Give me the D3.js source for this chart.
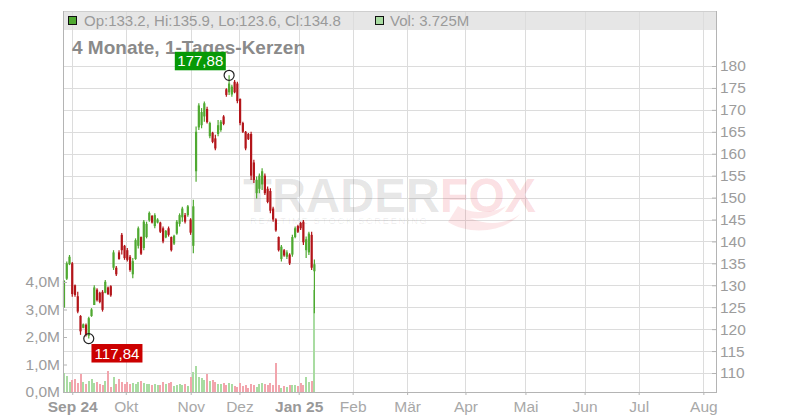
<!DOCTYPE html>
<html><head><meta charset="utf-8">
<script src="https://cdn.jsdelivr.net/npm/d3@7"></script>
<style>html,body{margin:0;padding:0;background:#fff}svg{display:block;font-family:"Liberation Sans",Arial,Helvetica,sans-serif}</style>
</head><body><svg id="c" width="800" height="420"></svg>
<script>
// ---- data ----
const openP=[125,131.5,134.8,135,130,127.5,123,120.3,121,118.5,
123,125.5,129,128.3,128.5,128.3,129.5,129.8,134,134,
137.5,141.5,139,138,136.5,132.5,136,139,141,138.5,
141,144.8,145.8,143.5,144.3,144.3,143,140.9,143,141,
139.5,141.8,144,145.5,146,146,145,139,156,166,
166.5,168.5,170.2,164,164.8,163.5,164.5,165.4,168.5,174.7,
174,173.5,176.4,176,172.5,167,165,164.5,164.5,158,
151,152,153,155,152,151.5,147.5,145,141,136,
138,136.5,137,137,141,143.5,144.2,144.5,138,137.5,
141.5,133.2];
const highP=[131.2,135.4,136.9,135.3,130.2,128.5,123.2,121.3,121.3,122.8,
124.8,130,129.3,128.5,128.9,131.2,129.7,130,138,134.4,
138,141.9,139.2,138.5,136.9,136.2,140.7,143.4,141.1,144.9,
144.5,146.8,146,146.4,145.3,144.5,143.4,142.6,143.4,141.1,
141.5,144.9,146.4,147.9,146.5,148.3,145.3,149.5,166.2,171.5,
170.4,171.9,170.7,167.3,165,164.3,167.7,167.7,168.8,174.9,
177.88,175.7,176.8,176.4,172.6,167.3,165.2,164.7,165,158.6,
154.8,155.5,156.7,155.5,152.5,152.1,147.9,145.3,141.1,139.2,
138.3,138,137.3,141.5,143.4,143.8,144.5,144.9,141.1,142.2,
142.2,135.9];
const lowP=[124.8,131.2,134.6,127.4,127.4,123.6,118.7,120.2,118.3,117.84,
122.8,125.5,126.3,125.9,124,128.2,127.8,127.4,133.5,132.1,
135.8,137,135.8,135.4,133.1,131.6,135.8,138.4,136.9,138,
140.7,144.5,144.1,143,144.1,141.9,139.6,140.7,141.1,137.7,
139.2,141.5,143.4,144.5,144.1,145.6,141.5,137.3,153.6,165.4,
165.8,167.3,166.9,163.5,162.4,160.8,164,165,166.5,173,
173.4,173,173.8,171.5,166.5,164.7,160.8,163.1,154,153.3,
149.8,151,151.7,150.6,148.7,146.4,144.5,142.2,137.7,135.4,
136.5,136,134.6,136.5,140.7,141.9,142.6,139.2,136.2,136.9,
133.5,123.6];
const closeP=[131,135,136.5,128,127.8,124,119.5,121.1,118.7,122.5,
124.5,129.5,126.6,126.2,124.4,130.8,128,127.7,137.5,132.5,
136,138,136.2,135.8,133.5,135.5,140.3,143,137.2,144.5,
144,146.5,144.3,146,145,142.2,140,142.4,141.5,138,
141.3,144.5,146,147.5,144.5,148,142,148,165,171,
169.5,171.5,167.2,167,162.7,161.2,166.5,167.3,166.8,173.4,
176,175.3,174,172,167,165,161.2,163.3,155,154,
154,155,156,151,149,147,145,142.5,138,138.8,
136.8,137.5,135,141,143,142.2,143,139.8,140.5,141.8,
134,134.8];
const volumeM=[0.68,0.58,0.38,0.44,0.47,0.32,0.65,0.35,0.30,0.39,
0.47,0.33,0.35,0.29,0.24,0.41,0.77,0.20,0.56,0.29,
0.47,0.35,0.30,0.38,0.28,0.32,0.30,0.36,0.41,0.33,
0.28,0.30,0.25,0.30,0.27,0.25,0.36,0.30,0.33,0.38,
0.22,0.27,0.28,0.24,0.30,0.22,0.56,0.72,0.95,0.53,
0.50,0.45,0.64,0.40,0.44,0.36,0.30,0.28,0.33,0.25,
0.32,0.30,0.22,0.18,0.32,0.22,0.25,0.15,0.30,0.27,
0.17,0.30,0.32,0.28,0.25,0.33,0.25,1.04,0.27,0.15,
0.22,0.20,0.25,0.24,0.26,0.21,0.32,0.25,0.56,0.35,
0.39,3.725];
const priceTicks=[110,115,120,125,130,135,140,145,150,155,160,165,170,175,180];
const volumeTicks=[0,1,2,3,4];
const monthLabels=["Sep 24","Okt","Nov","Dez","Jan 25","Feb","Mär","Apr","Mai","Jun","Jul","Aug"];
const monthStartIdx=[3,22.45,46.05,63.75,85.3,104.9,124.7,145.9,167.7,189.2,208.85,232.35];
const yearMonths=["Sep 24","Jan 25"];
const subtitle="4 Monate, 1-Tages-Kerzen";
const watermarkA="TRADER", watermarkB="FOX", watermarkSub="REALTIME STOCK SCREENING";

// ---- layout ----
const L=63,R=716,T=11,B=392;
const GREEN="#4fa931",RED="#b3151a",VGREEN="#a9dca2",VRED="#f2a5ad";
const GRID="#dcdcdc",AXIS="#b4b4b4",TXT="#9c9c9c";
const loc=d3.formatLocale({decimal:",",thousands:".",grouping:[3],currency:["","€"]});
const f1=loc.format(".1f"),f2=loc.format(".2f");

const n=openP.length;
const idx=d3.range(n);
const x=d3.scaleLinear().domain([0,91]).range([64,314.4]);
const y=d3.scaleLinear().domain([110,180]).range([373,66]);
const yv=d3.scaleLinear().domain([0,4]).range([392,282]);

const svg=d3.select("#c");
svg.append("rect").attr("width",800).attr("height",420).attr("fill","#fff");

// header band
svg.append("rect").attr("x",L).attr("y",T).attr("width",R-L).attr("height",19).attr("fill","#e6e6e6");

// grid
const g=svg.append("g").attr("shape-rendering","crispEdges");
g.selectAll(".hg").data(priceTicks).join("line")
 .attr("x1",L).attr("x2",R).attr("y1",d=>Math.round(y(d))+0.5).attr("y2",d=>Math.round(y(d))+0.5)
 .attr("stroke",GRID);
g.selectAll(".vg").data(monthStartIdx).join("line")
 .attr("x1",d=>Math.round(x(d))+0.5).attr("x2",d=>Math.round(x(d))+0.5).attr("y1",T).attr("y2",B)
 .attr("stroke",GRID);
g.append("line").attr("x1",L).attr("x2",R).attr("y1",T+0.5).attr("y2",T+0.5).attr("stroke","#cfcfcf");

// watermark
const wm=svg.append("g").attr("font-weight","bold");
wm.append("text").attr("x",243).attr("y",212).attr("font-size",48).attr("fill","#000").attr("fill-opacity",0.1)
 .attr("textLength",197).attr("lengthAdjust","spacingAndGlyphs").text(watermarkA);
wm.append("text").attr("x",440).attr("y",212).attr("font-size",48).attr("fill","#e0102a").attr("fill-opacity",0.15)
 .attr("textLength",96).attr("lengthAdjust","spacingAndGlyphs").text(watermarkB);
wm.append("path").attr("d","M448,222 C470,236 505,232 520,214 C508,224 488,226 470,218 C488,220 500,214 506,206 C492,214 470,214 458,206 Z")
 .attr("fill","#e0102a").attr("fill-opacity",0.1);
wm.append("text").attr("x",250).attr("y",223.5).attr("font-size",9.5).attr("font-weight","normal").attr("fill","#000").attr("fill-opacity",0.08)
 .attr("textLength",177).attr("lengthAdjust","spacing").text(watermarkSub);

// subtitle
svg.append("text").attr("x",72).attr("y",53.5).attr("font-size",19).attr("font-weight","bold").attr("fill","#8a8a8a").text(subtitle);

// volume bars
svg.append("g").attr("shape-rendering","crispEdges").selectAll("rect").data(idx).join("rect")
 .attr("x",i=>x(i)-1).attr("width",2)
 .attr("y",i=>yv(volumeM[i])).attr("height",i=>yv(0)-yv(volumeM[i]))
 .attr("fill",i=>closeP[i]>=openP[i]?VGREEN:VRED);

// candles
const cg=svg.append("g");
cg.selectAll("line").data(idx).join("line")
 .attr("x1",i=>x(i)).attr("x2",i=>x(i)).attr("y1",i=>y(highP[i])).attr("y2",i=>y(lowP[i]))
 .attr("stroke",i=>closeP[i]>=openP[i]?GREEN:RED).attr("stroke-width",1.2);
cg.selectAll("rect").data(idx).join("rect")
 .attr("x",i=>x(i)-1.1).attr("width",2.2)
 .attr("y",i=>y(Math.max(openP[i],closeP[i])))
 .attr("height",i=>Math.max(1,Math.abs(y(openP[i])-y(closeP[i]))))
 .attr("fill",i=>closeP[i]>=openP[i]?GREEN:RED);

// axes
const styleAxis=(sel)=>{sel.selectAll(".domain").remove();sel.selectAll("line").attr("stroke",AXIS);
 sel.selectAll("text").attr("fill",TXT).attr("font-size",15.5).attr("font-family",null);};
svg.append("g").attr("transform",`translate(${R},0)`)
 .call(d3.axisRight(y).tickValues(priceTicks).tickSize(-4).tickPadding(4).tickFormat(d3.format("d")))
 .call(styleAxis);
svg.append("g").attr("transform",`translate(${L},0)`)
 .call(d3.axisLeft(yv).tickValues(volumeTicks).tickSize(-4).tickPadding(3).tickFormat(d=>f1(d)+"M"))
 .call(styleAxis);
const xa=svg.append("g").attr("transform",`translate(0,${B})`)
 .call(d3.axisBottom(x).tickValues(monthStartIdx).tickSize(3).tickPadding(5.5).tickFormat((d,i)=>monthLabels[i]))
 .call(styleAxis);
xa.selectAll("text").attr("font-weight",(d,i)=>yearMonths.includes(monthLabels[i])?"bold":"normal")
 .attr("fill",(d,i)=>yearMonths.includes(monthLabels[i])?"#999":"#a8a8a8");
const fr=svg.append("g").attr("shape-rendering","crispEdges").attr("stroke",AXIS);
fr.append("line").attr("x1",L+0.5).attr("x2",L+0.5).attr("y1",T).attr("y2",B);
fr.append("line").attr("x1",R+0.5).attr("x2",R+0.5).attr("y1",T).attr("y2",B);
fr.append("line").attr("x1",L).attr("x2",R+1).attr("y1",B+0.5).attr("y2",B+0.5);

// high / low markers
const hiI=d3.maxIndex(highP), loI=d3.minIndex(lowP);
const mk=svg.append("g");
function marker(i,val,fill,dx,dy){
  const cx=x(i),cy=y(val);
  mk.append("circle").attr("cx",cx).attr("cy",cy).attr("r",5).attr("fill","none").attr("stroke","#222").attr("stroke-width",1.2);
  const bx=cx+dx,by=cy+dy;
  mk.append("rect").attr("x",bx).attr("y",by).attr("width",51).attr("height",18.5).attr("fill",fill);
  mk.append("text").attr("x",bx+25.5).attr("y",by+14.5).attr("text-anchor","middle").attr("font-size",15).attr("fill","#fff").text(f2(val));
}
marker(hiI,highP[hiI],"#069906",-54.3,-23.5);
marker(loI,lowP[loI],"#cc0000",2.7,5.4);

// legend header
const last=n-1;
const lg=svg.append("g").attr("font-size",15).attr("fill","#9a9a9a");
lg.append("rect").attr("x",68.5).attr("y",16.5).attr("width",8).attr("height",8).attr("fill",GREEN).attr("stroke","#111");
lg.append("text").attr("x",84).attr("y",26).text(`Op:${openP[last]}, Hi:${highP[last]}, Lo:${lowP[last]}, Cl:${closeP[last]}`);
lg.append("rect").attr("x",375.5).attr("y",16.5).attr("width",8).attr("height",8).attr("fill",VGREEN).attr("stroke","#111");
lg.append("text").attr("x",390).attr("y",26).text(`Vol: ${volumeM[last]}M`);
</script></body></html>
